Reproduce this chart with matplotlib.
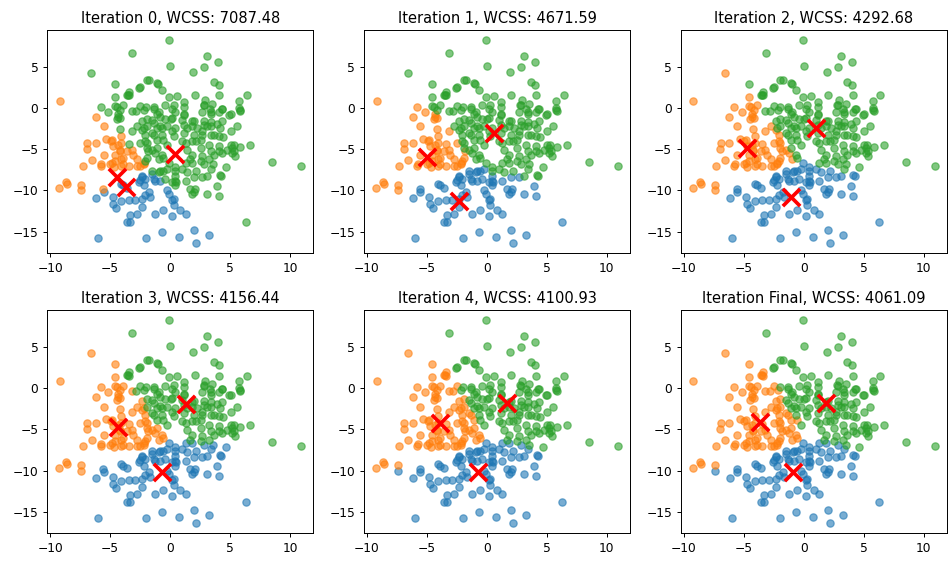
import matplotlib
matplotlib.use("Agg")
import matplotlib.pyplot as plt
import numpy as np

# point cloud (same points in every panel)
pts_x = [
    # upper / green area
    -6.6, -4.6, -4.6, -5.15, -4.4, -3.9, -4.3, -4.45, -4.15, -4.2, -3.6, -2.55,
    -1.95, -3.5, -3.4, -2.5, -3.2, -2.85, -2.15, -4.35, -2.35, -0.1, -3.15, 3.1,
    0.0, 2.85, 4.0, 1.9, -1.75, -1.0, -0.65, -2.5, -3.4, 3.65, 4.05, 2.05,
    -0.1, 0.6, 4.1, 0.3, 1.15, 2.95, 3.5, 2.8, -1.35, -0.95, 0.15, 1.15,
    2.7, 3.3, 4.1, 3.4, -1.95, -1.5, -0.4, 0.15, 1.0, 2.0, 2.85, 3.4,
    3.95, -2.75, -2.2, -1.1, 0.45, 1.45, 2.25, 3.1, -2.0, -1.35, -0.4, 1.15,
    2.85, 4.35, -1.1, 0.45, 1.15, 3.4, 4.95, -0.8, 0.05, 1.85, 4.35, -1.35,
    6.4, 5.75, 5.75, 5.85, 5.05, 4.3, 5.55, 4.15, 4.1, 5.3, 6.7, 5.85,
    5.2, 4.75, 4.1, 5.35, 5.4, 8.5, 10.95, 4.15, 3.95, 4.1, 6.3,
    -3.2, -2.35, -1.5, -0.65, 0.15, 1.15, 2.0, 2.7, 3.4, -2.05, -1.1, -0.55,
    1.0, 1.85, 2.55, -1.5, -1.1, 1.45, 2.55, 3.4, -1.95, -0.55, 1.7, 2.55,
    3.25, 3.4, -0.8, -0.25, 0.45, 1.45, 2.0, 2.7, 0.15, 0.45, 1.85, 2.0,
    3.1, -1.95, -0.8, -0.25, 1.15, 1.85, 2.85, 3.4, 5.05, 4.4, -1.35, -0.65,
    0.3, 2.7, 3.65, -1.95, -0.25, 1.3, 2.15, 3.25, 4.1, 5.05, -1.8, -1.25,
    -0.65, 1.85, 2.7, 3.65, 4.35, 5.2, -2.05, -0.95, -0.1, 1.3, 1.85, 2.85,
    3.55, 4.65, -1.5, -0.55, 0.45, 1.0, 2.15, 3.1, 4.25, -0.4, 0.45, 1.3,
    -2.05, -2.5, -1.95, -1.05, 5.8, 1.7,
    # left / orange area
    -9.2, -5.8, -6.2, -5.55, -6.9, -6.2, -6.95, -5.35, -4.95, -4.75, -4.05, -5.55,
    -4.6, -4.2, -6.55, -7.3, -5.8, -4.85, -4.7, -4.05, -4.05, -9.25, -8.6, -7.4,
    -7.4, -4.05, -3.2, -3.05, -2.75, -2.2, -2.5, -4.85, -4.3, -3.45, -4.2, -3.6,
    -5.75, -5.0, -4.6, -3.9, -3.9, -3.45, -2.75, -8.65, -2.2, -4.6, -4.15,
    # bottom / blue area
    -2.35, -2.5, -2.2, -1.5, -1.35, -0.8, -0.25, -0.1, -1.65, -2.35, -3.45, -2.9,
    0.3, 0.3, -2.35, -3.35, -2.75, -1.25, -0.55, 0.15, 0.85, 1.3, -3.35, -0.65,
    -2.0, 0.75, 2.0, 3.25, 2.2, -4.05, -6.15, -5.55, -5.6, -4.8, -4.75, -4.5,
    -4.05, -3.6, -6.0, -2.05, -1.25, -3.9, -3.55, -2.55, -2.3, -1.75, -2.05, 0.45,
    0.5, -0.9, 2.1, 0.15,
]
pts_y = [
    4.2, 2.9, 1.3, -0.5, 0.1, 0.3, -0.7, -1.4, -1.2, -2.5, 1.6, 2.4,
    3.4, 1.6, 1.9, 0.2, -0.4, -0.4, -0.3, -1.1, -1.6, 8.2, 6.7, 6.3,
    5.1, 5.0, 5.6, 4.4, 3.35, 2.9, 2.2, 2.5, 1.5, 3.1, 2.8, 1.6,
    1.3, 1.4, 1.5, 0.4, 0.7, 0.9, 0.5, 0.4, -0.1, -0.5, -0.1, -0.7,
    -0.5, -0.15, -0.5, -0.8, -1.3, -1.5, -1.3, -1.2, -1.5, -1.6, -1.6, -1.7,
    -1.9, -2.25, -2.45, -2.4, -2.45, -2.45, -2.45, -2.25, 0.1, 0.1, 0.3, 0.1,
    0.3, -0.1, -0.7, -0.5, -0.9, -0.5, -0.9, -1.1, -1.3, -1.65, -1.65, -1.85,
    1.5, 0.85, 0.0, -0.35, -0.8, -0.15, -2.25, -2.45, -3.45, -4.45, -4.45, -4.7,
    -4.85, -5.05, -5.25, -5.25, -5.85, -6.55, -7.0, -8.15, -9.5, -10.7, -13.85,
    -2.85, -2.65, -3.05, -2.45, -2.85, -3.05, -3.25, -2.85, -3.25, -4.05, -3.85, -3.85,
    -4.05, -4.05, -3.85, -5.05, -4.85, -5.05, -4.85, -5.25, -6.05, -6.05, -6.25, -6.45,
    -6.25, -7.4, -7.6, -7.4, -7.2, -7.8, -8.4, -8.4, -9.0, -9.4, -10.4, -10.2,
    -10.4, -2.25, -2.15, -2.25, -2.05, -2.25, -2.05, -2.25, -2.85, -3.5, -3.25, -3.25,
    -3.45, -3.25, -3.25, -4.25, -4.45, -4.25, -4.05, -4.45, -4.65, -4.45, -5.25, -5.45,
    -5.65, -5.65, -5.85, -5.65, -5.45, -5.45, -6.45, -6.25, -6.65, -6.65, -6.65, -6.85,
    -6.85, -7.2, -7.6, -7.6, -7.6, -7.4, -7.6, -8.2, -8.2, -8.6, -8.8, -8.8,
    -3.25, -4.25, -4.85, 3.0, -0.25, -9.8,
    0.8, 0.15, -1.1, -2.25, -4.25, -4.25, -4.95, -3.75, -4.05, -4.65, -4.25, -5.65,
    -5.65, -5.25, -6.35, -7.0, -7.0, -6.65, -7.2, -6.25, -7.0, -9.7, -9.2, -9.3,
    -10.0, -3.45, -5.05, -5.65, -6.25, -6.65, -7.0, -3.85, -4.45, -4.35, -5.05, -5.25,
    -6.75, -6.85, -6.45, -6.05, -6.85, -7.0, -7.0, -9.0, -6.85, 0.2, -0.2,
    -8.2, -8.7, -9.4, -8.0, -8.6, -8.8, -10.0, -10.4, -10.8, -11.0, -11.2, -11.2,
    -11.0, -11.8, -12.0, -13.0, -12.8, -12.8, -12.4, -13.1, -12.4, -12.8, -13.8, -15.0,
    -15.7, -15.6, -14.8, -15.4, -16.35, -9.2, -10.9, -10.2, -9.8, -10.8, -11.6, -12.1,
    -11.3, -13.8, -15.75, -8.6, -8.8, -9.4, -9.7, -9.0, -8.4, -10.2, -10.55, -8.2,
    -9.0, -7.8, -9.8, -11.15,
]

# centroids per panel, order: blue, orange, green
cent_x = [
    [-3.7, -4.4, 0.45],
    [-2.3, -5.0, 0.6],
    [-1.1, -4.7, 1.0],
    [-0.7, -4.3, 1.35],
    [-0.78, -3.92, 1.71],
    [-0.88, -3.67, 1.86],
]
cent_y = [
    [-9.6, -8.4, -5.6],
    [-11.3, -5.9, -3.0],
    [-10.8, -4.9, -2.4],
    [-10.2, -4.7, -1.9],
    [-10.2, -4.2, -1.8],
    [-10.15, -4.1, -1.8],
]
iter_names = ["0", "1", "2", "3", "4", "Final"]
wcss = [7087.48, 4671.59, 4292.68, 4156.44, 4100.93, 4061.09]

colors = ["tab:blue", "tab:orange", "tab:green"]

X = np.column_stack([pts_x, pts_y])

fig, axes = plt.subplots(2, 3, figsize=(950 / 88, 566 / 88), dpi=88)
for i, ax in enumerate(axes.flat):
    C = np.column_stack([cent_x[i], cent_y[i]])
    # each point goes with the nearest centroid shown in the panel
    d = ((X[:, None, :] - C[None, :, :]) ** 2).sum(axis=2)
    labels = d.argmin(axis=1)
    for k in range(3):
        sel = labels == k
        ax.scatter(X[sel, 0], X[sel, 1], c=colors[k], alpha=0.6)
    ax.scatter(C[:, 0], C[:, 1], c="red", marker="x", s=200, linewidths=3)
    ax.set_title(f"Iteration {iter_names[i]}, WCSS: {wcss[i]:.2f}")

plt.subplots_adjust(left=0.0495, right=0.997, top=0.947, bottom=0.058,
                    wspace=0.189, hspace=0.256)
plt.savefig("out.png", dpi=88)
